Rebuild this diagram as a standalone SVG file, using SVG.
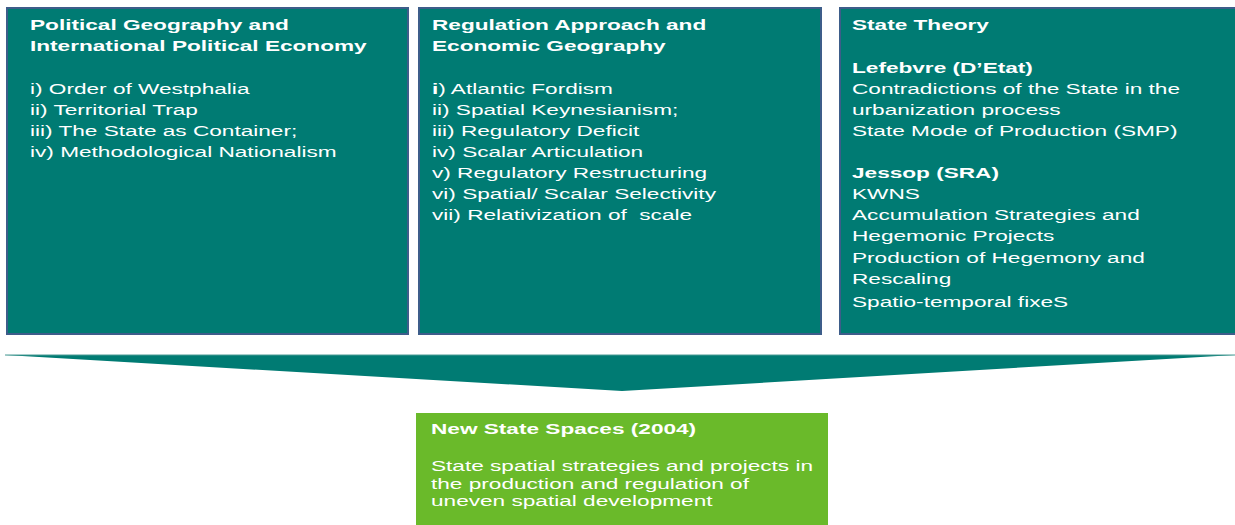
<svg xmlns="http://www.w3.org/2000/svg" width="1235" height="525" viewBox="0 0 1235 525">
<style>
.box{fill:#007b73;stroke:#3d5d8a;stroke-width:2}
.gbox{fill:#6aba2a}
text{font-family:"Liberation Sans",Arial,sans-serif;font-size:15.5px;fill:#ffffff}
.b{font-weight:bold}
</style>
<rect width="1235" height="525" fill="#ffffff"/>
<g id="political-geography">
<rect class="box" x="7" y="8" width="401" height="326"/>
<g transform="translate(30,0) scale(1.46,1)">
<text class="b" x="0" y="30">Political Geography and</text>
<text class="b" x="0" y="51">International Political Economy</text>
<text x="0" y="94">i) Order of Westphalia</text>
<text x="0" y="115">ii) Territorial Trap</text>
<text x="0" y="136">iii) The State as Container;</text>
<text x="0" y="157">iv) Methodological Nationalism</text>
</g>
</g>
<g id="regulation-approach">
<rect class="box" x="419" y="8" width="402" height="326"/>
<g transform="translate(432,0) scale(1.46,1)">
<text class="b" x="0" y="30">Regulation Approach and</text>
<text class="b" x="0" y="51">Economic Geography</text>
<text x="0" y="94"><tspan class="b">i</tspan>) Atlantic Fordism</text>
<text x="0" y="115">ii) Spatial Keynesianism;</text>
<text x="0" y="136">iii) Regulatory Deficit</text>
<text x="0" y="157">iv) Scalar Articulation</text>
<text x="0" y="178">v) Regulatory Restructuring</text>
<text x="0" y="199">vi) Spatial/ Scalar Selectivity</text>
<text x="0" y="220" xml:space="preserve">vii) Relativization of  scale</text>
</g>
</g>
<g id="state-theory">
<rect class="box" x="840" y="8" width="400" height="326"/>
<g transform="translate(852,0) scale(1.46,1)">
<text class="b" x="0" y="30">State Theory</text>
<text class="b" x="0" y="73">Lefebvre (D’Etat)</text>
<text x="0" y="94">Contradictions of the State in the</text>
<text x="0" y="115">urbanization process</text>
<text x="0" y="136">State Mode of Production (SMP)</text>
<text class="b" x="0" y="178">Jessop (SRA)</text>
<text x="0" y="199">KWNS</text>
<text x="0" y="220">Accumulation Strategies and</text>
<text x="0" y="241">Hegemonic Projects</text>
<text x="0" y="263">Production of Hegemony and</text>
<text x="0" y="284">Rescaling</text>
<text x="0" y="307">Spatio-temporal fixeS</text>
</g>
</g>
<g id="connectors">
<polygon points="5,355 1235,355 622,391" fill="#007b73"/>
<line x1="5" y1="355" x2="1235" y2="355" stroke="#4a9a94" stroke-width="1"/>
</g>
<g id="new-state-spaces">
<rect class="gbox" x="416" y="413" width="412" height="112"/>
<g transform="translate(431,0) scale(1.46,1)">
<text class="b" x="0" y="434">New State Spaces (2004)</text>
<text x="0" y="471">State spatial strategies and projects in</text>
<text x="0" y="489">the production and regulation of</text>
<text x="0" y="506">uneven spatial development</text>
</g>
</g>
</svg>
